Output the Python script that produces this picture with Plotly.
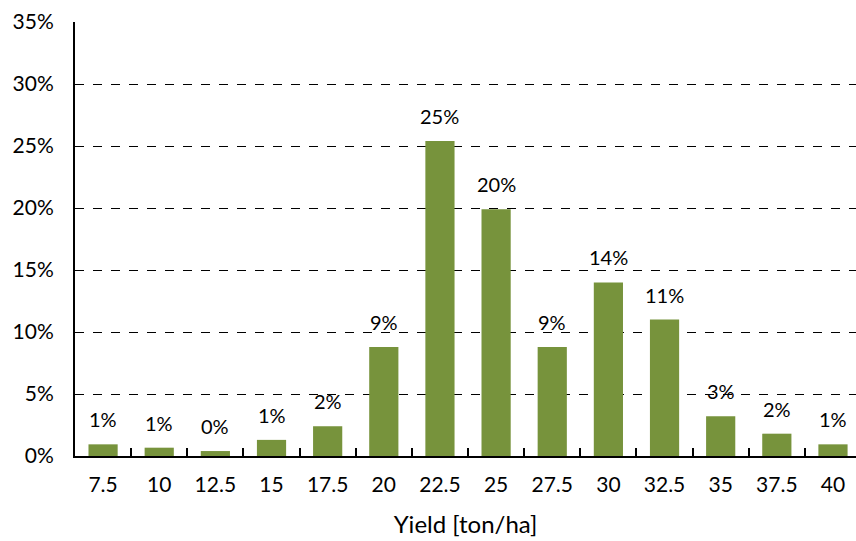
import plotly.graph_objects as go

# Yield classes (ton/ha) and share of observations in each class
yield_classes = ["7.5", "10", "12.5", "15", "17.5", "20", "22.5", "25",
                 "27.5", "30", "32.5", "35", "37.5", "40"]
share = [0.0094, 0.0067, 0.0040, 0.0130, 0.0240, 0.0880, 0.2540, 0.1990,
         0.0880, 0.1400, 0.1100, 0.0320, 0.0180, 0.0094]
y_ticks = [0, 0.05, 0.10, 0.15, 0.20, 0.25, 0.30, 0.35]
y_tick_text = ["0%", "5%", "10%", "15%", "20%", "25%", "30%", "35%"]

FONT = "Lato"
BAR_COLOR = "#77933C"

fig = go.Figure()
fig.add_trace(go.Bar(
    x=yield_classes,
    y=share,
    marker=dict(color=BAR_COLOR, line=dict(width=0)),
    hoverinfo="x+y",
))

# value labels above each bar (x given as category index)
for i, v in enumerate(share):
    fig.add_annotation(
        x=i, y=v, text=f"{round(v * 100):.0f}%",
        showarrow=False, yanchor="bottom", yshift=11,
        font=dict(family=FONT, size=20, color="black"),
    )

fig.update_layout(
    width=856, height=541,
    margin=dict(l=75, r=0, t=22, b=85),
    paper_bgcolor="white", plot_bgcolor="white",
    bargap=0.48,
    showlegend=False,
    font=dict(family=FONT, size=20, color="black"),
)
fig.update_xaxes(
    type="category",
    range=[-0.5, 13.41],
    showline=True, linecolor="black", linewidth=2,
    ticks="inside", tickson="boundaries", ticklen=8, tickwidth=1.5, tickcolor="black",
    showgrid=False,
    tickfont=dict(family=FONT, size=21, color="black"),
    ticklabelstandoff=9,
    title=dict(text="Yield [ton/ha]", font=dict(family=FONT, size=24, color="black"), standoff=21),
)
fig.update_yaxes(
    range=[0, 0.35],
    tickvals=y_ticks, ticktext=y_tick_text,
    showline=True, linecolor="black", linewidth=2,
    showgrid=True, gridcolor="black", gridwidth=1.2, griddash="dash",
    zeroline=False,
    ticks="",
    ticklabelstandoff=15,
    tickfont=dict(family=FONT, size=21, color="black"),
)

fig.write_html("out.html")
